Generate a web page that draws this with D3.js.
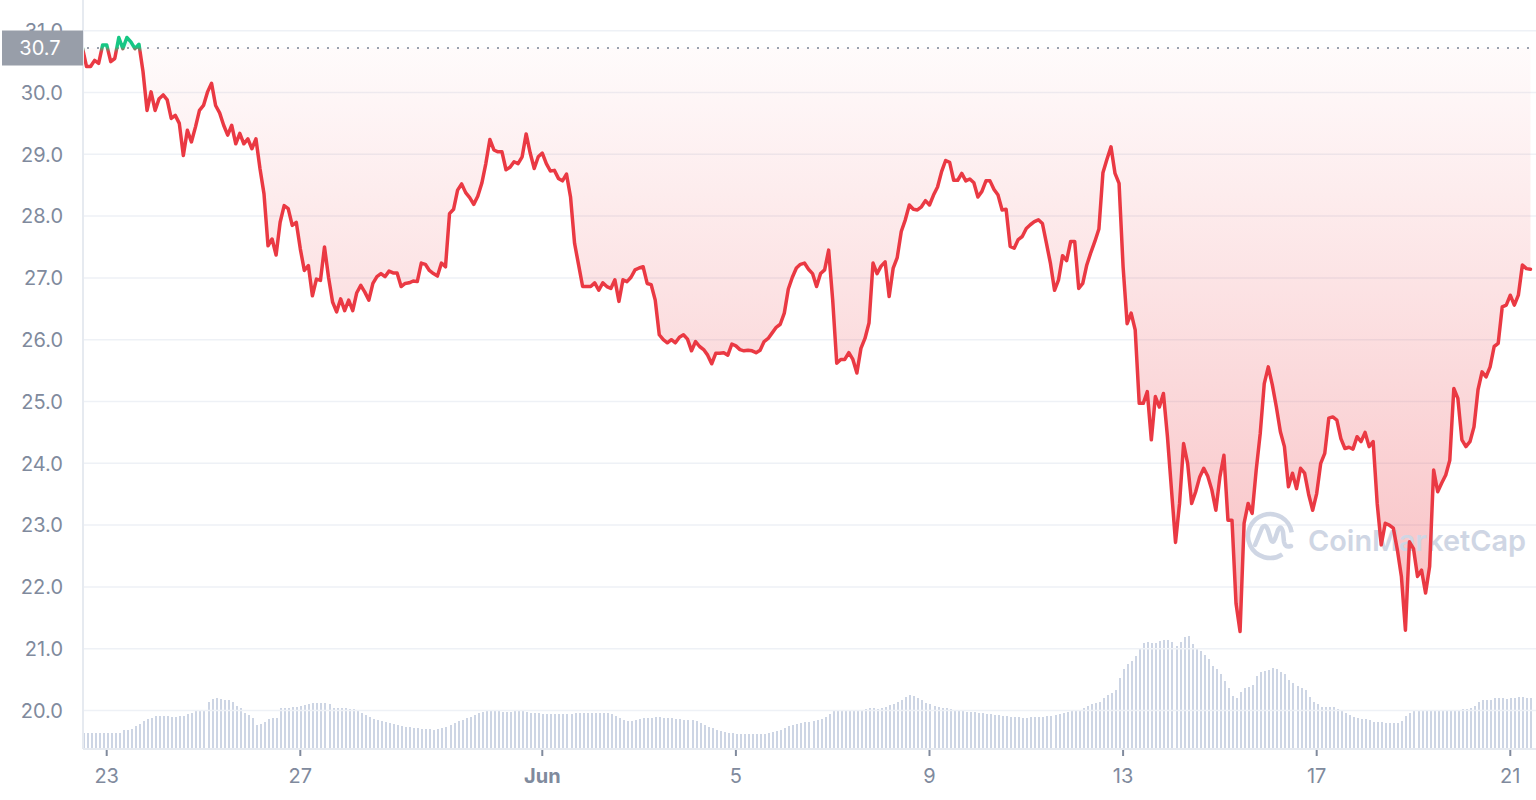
<!DOCTYPE html>
<html><head><meta charset="utf-8">
<script src="https://cdn.jsdelivr.net/npm/d3@7"></script>
<style>
html,body{margin:0;padding:0;background:#fff;}
svg{display:block;font-family:Inter,"Noto Sans",sans-serif;}
</style></head>
<body><svg id="chart" width="1536" height="800"></svg>
<script>
// ---------- data ----------
const startTime = "2022-05-22T12:00:00Z";
const stepHours = 2;
const openPrice = 30.72;
const prices = [
30.72,30.42,30.42,30.52,30.47,30.77,30.77,30.50,30.55,30.89,
30.71,30.89,30.82,30.71,30.78,30.34,29.71,30.01,29.71,29.90,
29.96,29.88,29.58,29.63,29.50,28.98,29.39,29.20,29.44,29.71,
29.79,30.01,30.15,29.79,29.67,29.47,29.31,29.47,29.17,29.34,
29.17,29.25,29.09,29.25,28.77,28.36,27.52,27.63,27.37,27.90,
28.17,28.12,27.85,27.90,27.47,27.12,27.20,26.71,26.98,26.96,
27.50,27.01,26.61,26.45,26.66,26.47,26.64,26.47,26.76,26.88,
26.77,26.64,26.91,27.02,27.07,27.02,27.11,27.08,27.08,26.86,
26.91,26.92,26.95,26.94,27.24,27.22,27.12,27.07,27.03,27.24,
27.18,28.04,28.11,28.42,28.52,28.38,28.30,28.19,28.32,28.53,
28.85,29.24,29.07,29.04,29.04,28.75,28.79,28.88,28.85,28.96,
29.33,29.02,28.77,28.96,29.02,28.85,28.73,28.74,28.61,28.57,
28.68,28.31,27.56,27.21,26.86,26.86,26.86,26.92,26.80,26.92,
26.86,26.83,26.97,26.62,26.97,26.94,27.01,27.13,27.16,27.18,
26.91,26.89,26.64,26.08,26.00,25.95,26.00,25.95,26.04,26.08,
26.01,25.82,25.97,25.89,25.84,25.75,25.61,25.78,25.78,25.79,
25.75,25.93,25.90,25.84,25.82,25.83,25.82,25.79,25.83,25.97,
26.02,26.11,26.20,26.25,26.43,26.82,27.01,27.16,27.22,27.24,
27.14,27.07,26.86,27.07,27.13,27.45,26.64,25.62,25.68,25.68,
25.79,25.68,25.46,25.86,26.02,26.27,27.24,27.07,27.19,27.26,
26.70,27.16,27.33,27.75,27.94,28.18,28.11,28.10,28.15,28.25,
28.18,28.34,28.47,28.72,28.90,28.87,28.58,28.58,28.69,28.57,
28.60,28.54,28.31,28.40,28.57,28.57,28.43,28.34,28.10,28.11,
27.51,27.48,27.62,27.67,27.80,27.86,27.91,27.94,27.88,27.56,
27.23,26.80,26.97,27.36,27.28,27.59,27.59,26.83,26.91,27.21,
27.41,27.59,27.79,28.70,28.92,29.12,28.69,28.53,27.18,26.26,
26.43,26.16,24.97,24.97,25.16,24.38,25.08,24.91,25.13,24.43,
23.57,22.72,23.35,24.32,24.00,23.35,23.54,23.78,23.92,23.79,
23.57,23.24,23.78,24.13,23.08,23.08,21.73,21.28,23.03,23.35,
23.19,23.89,24.48,25.29,25.56,25.27,24.91,24.51,24.27,23.62,
23.84,23.59,23.92,23.84,23.50,23.24,23.51,24.00,24.16,24.73,
24.75,24.70,24.40,24.24,24.26,24.23,24.43,24.35,24.50,24.27,
24.35,23.35,22.68,23.03,23.00,22.95,22.60,22.17,21.30,22.73,
22.62,22.17,22.27,21.90,22.33,23.89,23.54,23.68,23.81,24.05,
25.21,25.05,24.38,24.27,24.35,24.59,25.19,25.48,25.40,25.56,
25.89,25.94,26.53,26.56,26.72,26.56,26.72,27.21,27.15,27.14
];
// relative 24h volume (same 2-hour steps)
const volumes = [
15,15,15,15,15,15,15,15,15,15,
18,18,19,22,24,27,29,30,32,32,
32,32,31,31,32,32,34,35,38,38,
38,46,49,50,49,48,48,46,42,40,
35,33,30,23,24,26,29,30,30,40,
40,40,41,41,42,43,44,45,45,45,
45,44,40,40,40,40,39,39,37,35,
33,31,29,28,27,26,25,24,23,22,
21,21,20,20,19,19,19,18,19,20,
21,23,25,27,28,30,31,33,35,36,
37,37,37,37,36,36,36,37,38,37,
36,35,35,35,34,34,34,34,34,34,
34,34,35,35,35,35,35,35,35,35,
35,34,32,30,28,27,27,28,29,30,
30,30,31,31,30,30,30,29,29,28,
28,28,27,25,23,21,20,18,17,16,
15,15,14,14,14,14,14,14,14,14,
15,16,17,18,20,22,23,24,25,26,
26,27,28,29,31,34,37,38,38,38,
38,38,38,38,39,40,40,39,40,41,
43,44,46,48,51,53,52,50,48,45,
44,42,41,40,40,39,38,38,37,36,
36,36,35,35,34,34,33,33,32,32,
31,31,31,30,30,31,31,31,31,32,
32,33,34,35,36,37,38,38,40,42,
44,45,46,50,53,55,58,70,79,84,
87,92,100,105,106,105,105,107,108,108,
106,102,106,111,112,104,100,97,93,89,
82,79,74,67,60,52,50,56,60,61,
63,72,76,77,78,80,79,76,74,68,
65,62,60,58,51,46,44,41,41,41,
41,39,37,35,33,31,30,29,29,28,
26,26,26,25,25,25,25,27,32,35,
37,37,37,37,37,38,38,38,38,38,
38,38,39,39,40,42,46,48,48,48,
50,50,50,49,50,50,51,51,50,50
];
const yTicks = [20,21,22,23,24,25,26,27,28,29,30,31];
const xTickDates = ["2022-05-23","2022-05-27","2022-06-01","2022-06-05","2022-06-09","2022-06-13","2022-06-17","2022-06-21"];
const xTickLabels = ["23","27","Jun","5","9","13","17","21"];

// ---------- build ----------
const t0 = new Date(startTime).getTime();
const series = prices.map((p,i)=>({t:new Date(t0 + i*stepHours*3600e3), p}));
const vols = volumes.map((v,i)=>({t:new Date(t0 + i*stepHours*3600e3), v}));

const plotL=83, plotR=1536, plotB=748;
const x = d3.scaleUtc().domain([new Date(startTime), new Date("2022-06-21T12:45:00Z")]).range([82.5, 1536]);
const y = d3.scaleLinear().domain([20,31]).range([710.5,30.7]);
const vy = d3.scaleLinear().domain([0,120]).range([plotB, plotB-120]);

const svg = d3.select("#chart");
const defs = svg.append("defs");
const by = y(openPrice);
const minP = d3.min(prices), maxP = d3.max(prices);

defs.append("clipPath").attr("id","plotClip").append("rect")
  .attr("x",plotL).attr("y",0).attr("width",plotR-plotL).attr("height",plotB);
defs.append("clipPath").attr("id","belowClip").append("rect")
  .attr("x",plotL).attr("y",by).attr("width",plotR-plotL).attr("height",plotB-by);
defs.append("clipPath").attr("id","aboveClip").append("rect")
  .attr("x",plotL).attr("y",0).attr("width",plotR-plotL).attr("height",by);

const redG = defs.append("linearGradient").attr("id","redFill")
  .attr("gradientUnits","userSpaceOnUse").attr("x1",0).attr("x2",0).attr("y1",by).attr("y2",y(minP));
redG.append("stop").attr("offset",0).attr("stop-color","#ea3943").attr("stop-opacity",0.02);
redG.append("stop").attr("offset",1).attr("stop-color","#ea3943").attr("stop-opacity",0.32);
const greenG = defs.append("linearGradient").attr("id","greenFill")
  .attr("gradientUnits","userSpaceOnUse").attr("x1",0).attr("x2",0).attr("y1",by).attr("y2",y(maxP));
greenG.append("stop").attr("offset",0).attr("stop-color","#16c784").attr("stop-opacity",0.02);
greenG.append("stop").attr("offset",1).attr("stop-color","#16c784").attr("stop-opacity",0.2);
const lineG = defs.append("linearGradient").attr("id","lineStroke")
  .attr("gradientUnits","userSpaceOnUse").attr("x1",0).attr("x2",0).attr("y1",0).attr("y2",plotB);
lineG.append("stop").attr("offset",(by-1)/plotB).attr("stop-color","#16c784");
lineG.append("stop").attr("offset",(by+4)/plotB).attr("stop-color","#ea3943");

// volume bars
svg.append("g").attr("clip-path","url(#plotClip)").selectAll("rect").data(vols).join("rect")
  .attr("x",d=>Math.round(x(d.t))).attr("width",2)
  .attr("y",d=>vy(d.v)).attr("height",d=>plotB-vy(d.v))
  .attr("fill","#cdd5e4").attr("shape-rendering","crispEdges");

// grid
svg.append("g").selectAll("line").data(yTicks).join("line")
  .attr("x1",plotL).attr("x2",plotR).attr("y1",d=>y(d)).attr("y2",d=>y(d))
  .attr("stroke","#eef1f6").attr("stroke-width",1.5);

// area fills
const area = d3.area().x(d=>x(d.t)).y0(by).y1(d=>y(d.p));
svg.append("path").datum(series).attr("d",area).attr("fill","url(#redFill)").attr("clip-path","url(#belowClip)");
svg.append("path").datum(series).attr("d",area).attr("fill","url(#greenFill)").attr("clip-path","url(#aboveClip)");

// watermark
const wm = svg.append("g").attr("fill","none").attr("stroke","#cfd6e4");
const cx=1270, cy=536, r=22;
const arc = d3.arc().innerRadius(r).outerRadius(r).startAngle(2.55).endAngle(2.55+2*Math.PI-1.15);
wm.append("path").attr("d",arc()).attr("transform",`translate(${cx},${cy})`).attr("stroke-width",4.5).attr("stroke-linecap","round");
wm.append("path").attr("stroke-width",4.5).attr("stroke-linecap","round").attr("stroke-linejoin","round")
  .attr("d",`M${cx-15},${cy+9} L${cx-8},${cy-8} Q${cx-5},${cy-13} ${cx-2},${cy-6} L${cx+1},${cy+4} Q${cx+3},${cy+8} ${cx+5},${cy+3} L${cx+8},${cy-6} Q${cx+11},${cy-12} ${cx+13},${cy-4} L${cx+14},${cy+6} Q${cx+15},${cy+12} ${cx+21},${cy+10}`);
svg.append("text").text("CoinMarketCap").attr("x",1308).attr("y",551)
  .attr("font-size",29).attr("font-weight",600).attr("fill","#cfd6e4")
  .attr("textLength",218).attr("lengthAdjust","spacingAndGlyphs");

// baseline dotted
svg.append("line").attr("x1",plotL+4).attr("x2",plotR).attr("y1",by).attr("y2",by)
  .attr("stroke","#9aa1ae").attr("stroke-width",2).attr("stroke-dasharray","2 8");

// price line
const line = d3.line().x(d=>x(d.t)).y(d=>y(d.p));
svg.append("path").datum(series).attr("d",line).attr("fill","none")
  .attr("stroke","url(#lineStroke)").attr("stroke-width",3.5)
  .attr("stroke-linejoin","round").attr("stroke-linecap","round").attr("clip-path","url(#plotClip)");

// axes lines
svg.append("line").attr("x1",plotL).attr("x2",plotL).attr("y1",0).attr("y2",plotB+1)
  .attr("stroke","#e6eaf0").attr("stroke-width",2);
svg.append("line").attr("x1",plotL).attr("x2",plotR).attr("y1",plotB+1).attr("y2",plotB+1)
  .attr("stroke","#e6eaf0").attr("stroke-width",2);

// y labels
svg.append("g").selectAll("text").data(yTicks).join("text")
  .attr("x",63).attr("y",d=>y(d)).attr("dy","0.36em").attr("text-anchor","end")
  .attr("font-size",20).attr("fill","#808a9d").text(d=>d3.format(".1f")(d));

// x ticks & labels
const xt = xTickDates.map((d,i)=>({t:new Date(d+"T00:00:00Z"), label:xTickLabels[i]}));
svg.append("g").selectAll("line").data(xt).join("line")
  .attr("x1",d=>x(d.t)).attr("x2",d=>x(d.t)).attr("y1",plotB+2).attr("y2",plotB+8)
  .attr("stroke","#808a9d").attr("stroke-width",2);
svg.append("g").selectAll("text").data(xt).join("text")
  .attr("x",d=>x(d.t)).attr("y",783).attr("text-anchor","middle")
  .attr("font-size",20).attr("fill","#808a9d")
  .attr("font-weight",d=>d.label==="Jun"?700:400).text(d=>d.label);

// open price tag
svg.append("rect").attr("x",2).attr("y",by-17.5).attr("width",81).attr("height",35).attr("fill","#989ea9");
svg.append("text").attr("x",40).attr("y",by).attr("dy","0.36em").attr("text-anchor","middle")
  .attr("font-size",20).attr("fill","#ffffff").text(d3.format(".1f")(openPrice));
</script></body></html>
